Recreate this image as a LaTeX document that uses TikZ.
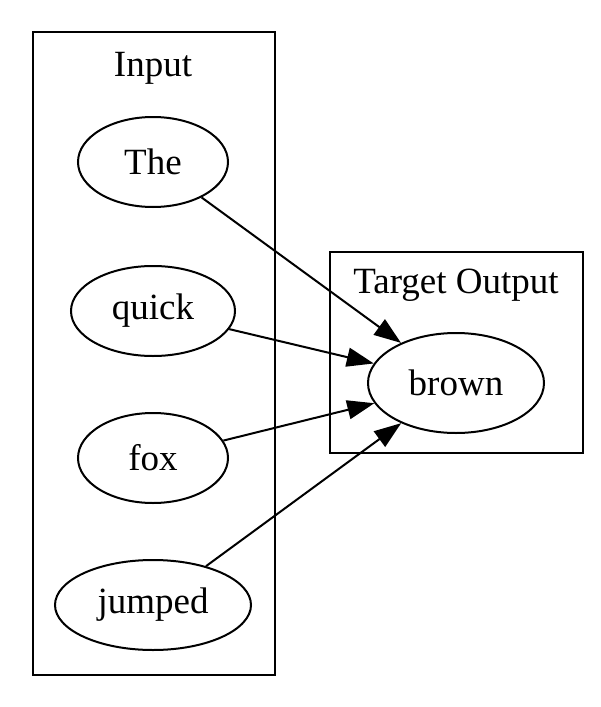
\documentclass[tikz,border=0pt]{standalone}
\usepackage{fontspec}
\setmainfont{Liberation Serif}
\usetikzlibrary{arrows.meta,shapes.geometric}
\begin{document}
\begin{tikzpicture}[x=1pt,y=-1pt,
  every node/.style={font=\fontsize{37}{44}\selectfont},
  wordnode/.style={draw,ellipse,line width=2pt,minimum height=90pt,inner sep=0pt},
  cluster/.style={draw,line width=2pt},
  edge/.style={line width=2pt,-{Triangle[length=27pt,width=19pt]}}]
\useasboundingbox (0,0) rectangle (600,707);
\draw[cluster] (33,32) rectangle (275,675);
\node (inlabel) at (153,68) {Input};
\draw[cluster] (330,252) rectangle (583,453);
\node (outlabel) at (456,285) {Target Output};
\node[wordnode,minimum width=150pt] (the) at (153,162) {The};
\node[wordnode,minimum width=164pt] (quick) at (153,311) {quick};
\node[wordnode,minimum width=150pt] (fox) at (153,458) {fox};
\node[wordnode,minimum width=196pt] (jumped) at (153,605) {jumped};
\node[wordnode,minimum width=176pt,minimum height=100pt] (brown) at (456,383) {brown};
\draw[edge] (the) -- (brown);
\draw[edge] (quick) -- (brown);
\draw[edge] (fox) -- (brown);
\draw[edge] (jumped) -- (brown);
\end{tikzpicture}
\end{document}
